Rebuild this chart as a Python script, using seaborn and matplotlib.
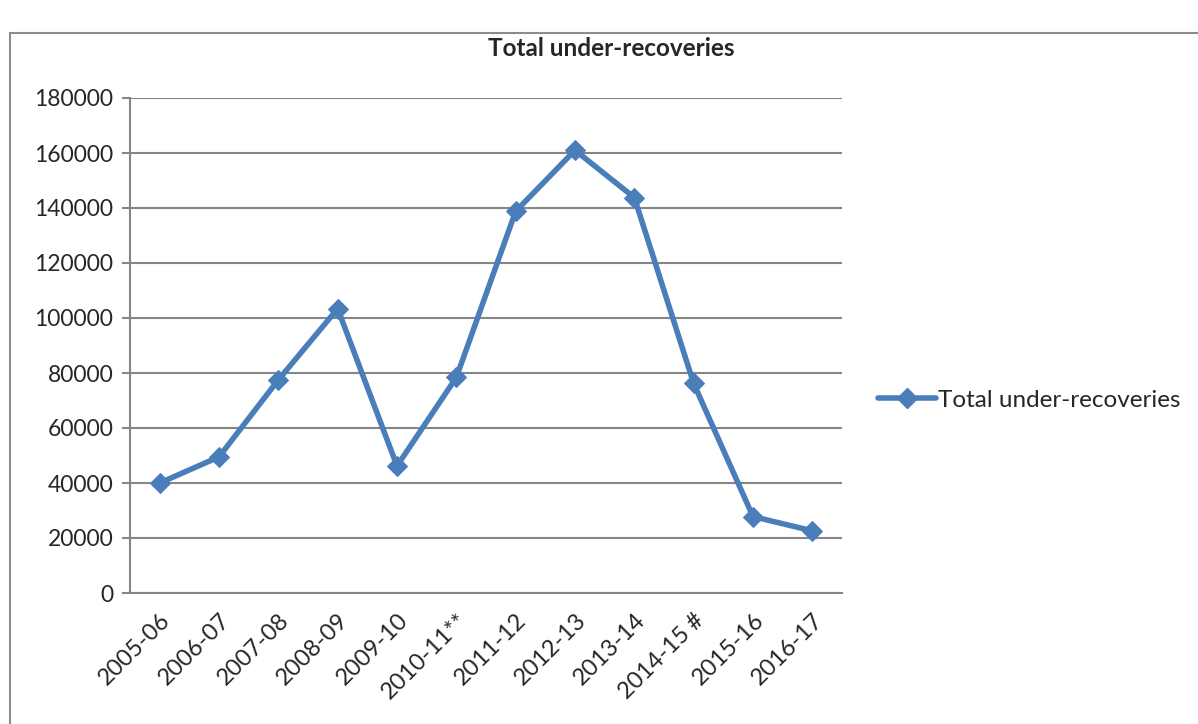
import matplotlib
matplotlib.use("Agg")
import matplotlib.pyplot as plt
from matplotlib.patches import Rectangle
from matplotlib.lines import Line2D
import seaborn as sns
import pandas as pd
import numpy as np

# Fiscal years and total under-recoveries
years = ["2005-06", "2006-07", "2007-08", "2008-09", "2009-10", "2010-11**",
         "2011-12", "2012-13", "2013-14", "2014-15 #", "2015-16", "2016-17"]
under_recoveries = [40000, 49500, 77500, 103400, 46200, 78400,
                    138800, 161000, 143800, 76200, 27800, 22600]
y_ticks = list(range(0, 180001, 20000))

series_name = "Total under-recoveries"
blue = "#4A7EBB"
grid_grey = "#868686"

sns.set_theme(style="white")
plt.rcParams["font.family"] = ["Lato", "DejaVu Sans"]

df = pd.DataFrame({"year": years, "value": under_recoveries})
df["pos"] = np.arange(len(years))

fig = plt.figure(figsize=(11.98, 7.24), dpi=100)
ax = fig.add_axes([130 / 1198, 1 - 593 / 724, (842 - 130) / 1198, (593 - 98) / 724])

# outer chart frame
fig.patches.append(Rectangle((10 / 1198, -0.05), 1.2, 1 - 33 / 724 + 0.05,
                             transform=fig.transFigure, fill=False,
                             edgecolor="#8c8c8c", linewidth=1.5, zorder=0))

sns.lineplot(data=df, x="pos", y="value", ax=ax, color=blue, linewidth=4.0,
             marker="D", markersize=10.5, markeredgecolor=blue,
             markerfacecolor=blue, zorder=3, legend=False)

ax.set_xlim(-0.5, len(years) - 0.5)
ax.set_ylim(0, 180000)
ax.set_yticks(y_ticks)
ax.set_yticklabels([str(v) for v in y_ticks], fontsize=16.5)
ax.set_xticks(df["pos"])
ax.set_xticklabels(years, rotation=45, ha="right", va="top",
                   rotation_mode="anchor", fontsize=17)
ax.set_xticks(np.arange(-0.5, len(years), 1.0), minor=True)
ax.tick_params(axis="x", which="major", length=0, pad=12)
ax.tick_params(axis="x", which="minor", length=6, width=1.5, color=grid_grey,
               direction="out")
ax.tick_params(axis="y", length=6, width=1.5, color=grid_grey,
               direction="out", pad=6, left=True)
ax.set_xlabel("")
ax.set_ylabel("")

ax.yaxis.grid(True, color=grid_grey, linewidth=1.5)
ax.xaxis.grid(False)
ax.set_axisbelow(True)
for side in ("top", "right"):
    ax.spines[side].set_visible(False)
for side in ("left", "bottom"):
    ax.spines[side].set_color(grid_grey)
    ax.spines[side].set_linewidth(1.5)

fig.text(611 / 1198, 1 - 49 / 724, series_name, ha="center", va="center",
         fontsize=17.5, fontweight="bold")

handle = Line2D([], [], color=blue, linewidth=4.0, marker="D", markersize=10.5,
                markeredgecolor=blue, markerfacecolor=blue)
fig.legend([handle], [series_name], loc="center left",
           bbox_to_anchor=(868 / 1198, 1 - 400 / 724), frameon=False,
           fontsize=17.5, handlelength=2.4, handletextpad=0.1, borderaxespad=0)

fig.savefig("out.png", dpi=100)
